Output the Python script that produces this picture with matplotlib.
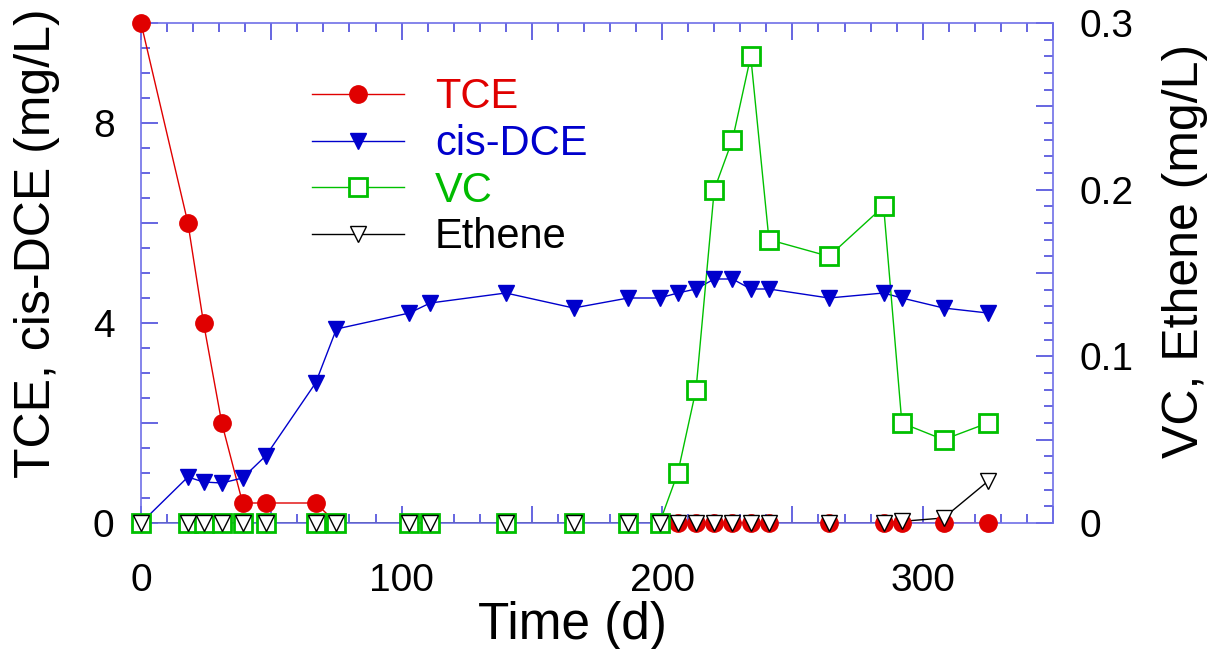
import matplotlib
matplotlib.use("Agg")
import matplotlib.pyplot as plt
from matplotlib.ticker import MultipleLocator, FuncFormatter
from matplotlib.legend_handler import HandlerTuple

plt.rcParams['font.family'] = ['Liberation Sans', 'DejaVu Sans']

# Sampling days and concentrations
tce_days = [0, 18, 24, 31, 39, 48, 67, 75, 206, 213, 220, 227, 234, 241, 264, 285, 292, 308, 325]
tce_mg_l = [10.0, 6.0, 4.0, 2.0, 0.4, 0.4, 0.4, 0.0, 0, 0, 0, 0, 0, 0, 0, 0, 0, 0, 0]

dce_days = [0, 18, 24, 31, 39, 48, 67, 75, 103, 111, 140, 166, 187, 199, 206, 213,
            220, 227, 234, 241, 264, 285, 292, 308, 325]
dce_mg_l = [0.0, 0.92, 0.82, 0.8, 0.9, 1.35, 2.8, 3.88, 4.2, 4.4, 4.6, 4.3, 4.5, 4.5,
            4.6, 4.68, 4.88, 4.88, 4.68, 4.68, 4.5, 4.6, 4.5, 4.3, 4.2]

vc_days = [0, 18, 24, 31, 39, 48, 67, 75, 103, 111, 140, 166, 187, 199, 206, 213,
           220, 227, 234, 241, 264, 285, 292, 308, 325]
vc_mg_l = [0, 0, 0, 0, 0, 0, 0, 0, 0, 0, 0, 0, 0, 0, 0.03, 0.08, 0.2, 0.23, 0.28,
           0.17, 0.16, 0.19, 0.06, 0.05, 0.06]

eth_days = [0, 18, 24, 31, 39, 48, 67, 75, 103, 111, 140, 166, 187, 199, 206, 213,
            220, 227, 234, 241, 264, 285, 292, 308, 325]
eth_mg_l = [0, 0, 0, 0, 0, 0, 0, 0, 0, 0, 0, 0, 0, 0, 0, 0, 0, 0, 0, 0, 0, 0,
            0.001, 0.003, 0.025]

RED = '#e00000'
BLUE = '#0000cc'
GREEN = '#00c000'
BLACK = '#000000'
SPINE = '#7070e8'
TICK = '#3c3cd8'

fig = plt.figure(figsize=(12.17, 6.49), dpi=100)
ax = fig.add_axes([141 / 1217, 1 - 523 / 649, 912 / 1217, 500 / 649])
ax2 = ax.twinx()
ax.set_zorder(ax2.get_zorder() + 1)
ax.patch.set_visible(False)

ax.set_xlim(0, 350)
ax.set_ylim(0, 10)
ax2.set_ylim(0, 0.3)

lw = 1.0
# connecting lines sit under the frame; markers sit above it
l_tce, = ax.plot(tce_days, tce_mg_l, '-', color=RED, lw=lw, zorder=2)
l_dce, = ax.plot(dce_days, dce_mg_l, '-', color=BLUE, lw=lw, zorder=2)
l_vc, = ax.plot(vc_days, vc_mg_l, '-', color=GREEN, lw=lw, zorder=2, transform=ax2.transData)
l_eth, = ax.plot(eth_days, eth_mg_l, '-', color=BLACK, lw=lw, zorder=2, transform=ax2.transData)

m_tce, = ax.plot(tce_days, tce_mg_l, 'o', ms=12.5, color=RED, mec=RED, zorder=3, clip_on=False, ls='none')
m_dce, = ax.plot(dce_days, dce_mg_l, 'v', ms=11.5, color=BLUE, mec=BLUE, zorder=3.1, clip_on=False, ls='none')
m_vc, = ax.plot(vc_days, vc_mg_l, 's', ms=12.5, mfc='white', mec=GREEN, mew=2.0, zorder=3.2,
                clip_on=False, ls='none', transform=ax2.transData)
m_eth, = ax.plot(eth_days, eth_mg_l, 'v', ms=12, mfc='white', mec=BLACK, mew=1.0, zorder=3.3,
                 clip_on=False, ls='none', transform=ax2.transData)

for s in ax.spines.values():
    s.set_color(SPINE)
    s.set_linewidth(1.2)
for s in ax2.spines.values():
    s.set_visible(False)

tick_kw = dict(direction='in', color=TICK, width=1.1, labelsize=28)
ax.xaxis.set_major_locator(MultipleLocator(50))
ax.xaxis.set_minor_locator(MultipleLocator(10))
ax.xaxis.set_major_formatter(FuncFormatter(lambda v, p: f'{v:.0f}' if abs(v % 100) < 1e-6 else ''))
ax.yaxis.set_major_locator(MultipleLocator(2))
ax.yaxis.set_minor_locator(MultipleLocator(0.5))
ax.yaxis.set_major_formatter(FuncFormatter(lambda v, p: f'{v:.0f}' if abs(v % 4) < 1e-6 else ''))
ax.tick_params(axis='x', which='both', top=True, bottom=True, pad=29, **tick_kw)
ax.tick_params(axis='y', which='both', left=True, right=False, pad=19, **tick_kw)
ax.tick_params(which='major', length=12)
ax.tick_params(which='minor', length=6.5)

ax2.yaxis.set_major_locator(MultipleLocator(0.05))
ax2.yaxis.set_minor_locator(MultipleLocator(0.01))


def right_fmt(v, p):
    r = round(v, 3)
    return f'{r:g}' if abs(round(r * 100) % 10) == 0 else ''


ax2.yaxis.set_major_formatter(FuncFormatter(right_fmt))
ax2.tick_params(axis='y', which='both', right=True, pad=19, **tick_kw)
ax2.tick_params(which='major', length=12)
ax2.tick_params(which='minor', length=6.5)

ax.set_xlabel('Time (d)', fontsize=37)
ax.xaxis.set_label_coords(0.4726, -0.156)
ax.set_ylabel('TCE, cis-DCE (mg/L)', fontsize=36)
ax.yaxis.set_label_coords(-0.089, 0.56)
ax2.set_ylabel('VC, Ethene (mg/L)', fontsize=36)
ax2.yaxis.set_label_coords(1.1195, 0.544)

handles = [(l_tce, m_tce), (l_dce, m_dce), (l_vc, m_vc), (l_eth, m_eth)]
labels = ['TCE', 'cis-DCE', 'VC', 'Ethene']
leg = ax.legend(handles, labels, loc='upper left', bbox_to_anchor=(0.1875, 0.891),
                frameon=False, fontsize=30, handlelength=2.2, handletextpad=0.75,
                labelspacing=0.16, borderpad=0, borderaxespad=0,
                handler_map={tuple: HandlerTuple(ndivide=1)})
for txt, c in zip(leg.get_texts(), [RED, BLUE, '#00bb00', BLACK]):
    txt.set_color(c)

fig.savefig('out.png', dpi=100)
